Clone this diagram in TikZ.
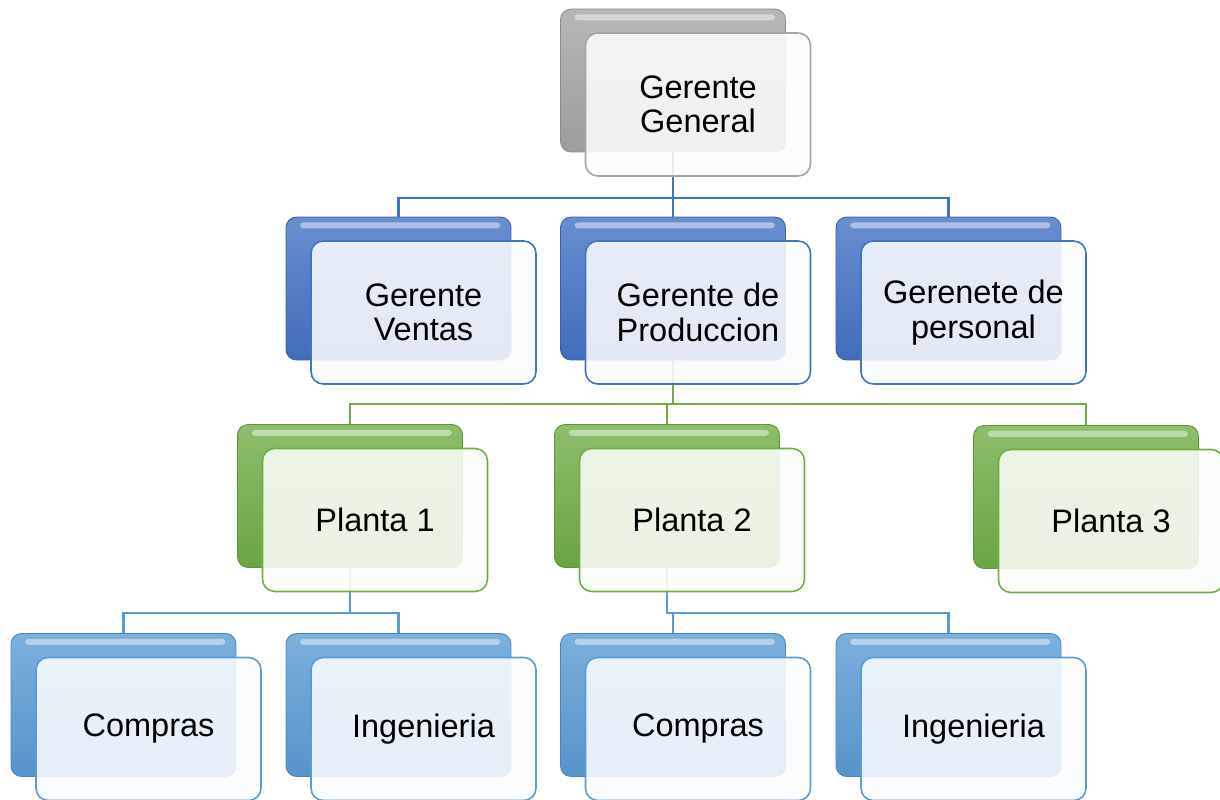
\documentclass[tikz,border=0pt]{standalone}
\usepackage{fontspec}
\setmainfont{Liberation Sans}
\usetikzlibrary{positioning}

\definecolor{grisA}{HTML}{A5A5A5}
\definecolor{azulA}{HTML}{4472C4}
\definecolor{verdeA}{HTML}{70AD47}
\definecolor{celesteA}{HTML}{5B9BD5}

\tikzset{
  fondo/.style={draw=#1!85!black, line width=0.5pt, rounded corners=6pt,
    minimum width=4.5cm, minimum height=2.86cm,
    top color=#1!80!white, bottom color=#1!95!black,
    path picture={\fill[white, opacity=0.45, rounded corners=2pt]
      ([xshift=8pt,yshift=-3pt]path picture bounding box.north west) rectangle
      ([xshift=-6pt,yshift=-6.5pt]path picture bounding box.north east);}},
  caja/.style={draw=#1, line width=0.9pt, rounded corners=7pt,
    minimum width=4.5cm, minimum height=2.86cm,
    fill=#1!3!white, fill opacity=0.88, text opacity=1, text=black,
    align=center, font=\fontsize{18.5}{19.5}\selectfont},
  enlace/.style={draw=#1, line width=1.4pt}
}

\begin{document}
\begin{tikzpicture}[x=0.02cm, y=-0.02cm]
\useasboundingbox (0,0) rectangle (1220,800);

% cajas de fondo
\foreach \n/\x/\y/\c in {gg/673/80.5/grisA,
    vent/398.5/288.5/azulA, prod/673/288.5/azulA, pers/948.5/288.5/azulA,
    pl1/350/496/verdeA, pl2/667/496/verdeA, pl3/1086/497/verdeA,
    com1/123.5/705/celesteA, ing1/398.5/705/celesteA,
    com2/673/705/celesteA, ing2/948.5/705/celesteA}
    \node[fondo=\c] (\n-b) at (\x,\y) {};

\coordinate (bus1) at (0,198);
\coordinate (bus2) at (0,404);
\coordinate (bus3) at (0,613);

% enlaces
\foreach \h in {vent,prod,pers}
    \draw[enlace=azulA] (gg-b.south) |- (bus1 -| \h-b.north) -- (\h-b.north);

\foreach \h in {pl1,pl2,pl3}
    \draw[enlace=verdeA] (prod-b.south) |- (bus2 -| \h-b.north) -- (\h-b.north);

\foreach \h in {com1,ing1}
    \draw[enlace=celesteA] (pl1-b.south) |- (bus3 -| \h-b.north) -- (\h-b.north);

\foreach \h in {com2,ing2}
    \draw[enlace=celesteA] (pl2-b.south) |- (bus3 -| \h-b.north) -- (\h-b.north);

% cajas con texto
\foreach \n/\c/\t in {gg/grisA/{Gerente\\General},
    vent/azulA/{Gerente\\Ventas}, prod/azulA/{Gerente de\\Produccion},
    pers/azulA/{Gerenete de\\personal},
    pl1/verdeA/{Planta 1}, pl2/verdeA/{Planta 2}, pl3/verdeA/{Planta 3},
    com1/celesteA/{Compras}, ing1/celesteA/{Ingenieria},
    com2/celesteA/{Compras}, ing2/celesteA/{Ingenieria}}
    \node[caja=\c] (\n) at ([shift={(25,24)}]\n-b.center) {\t};

\end{tikzpicture}
\end{document}
